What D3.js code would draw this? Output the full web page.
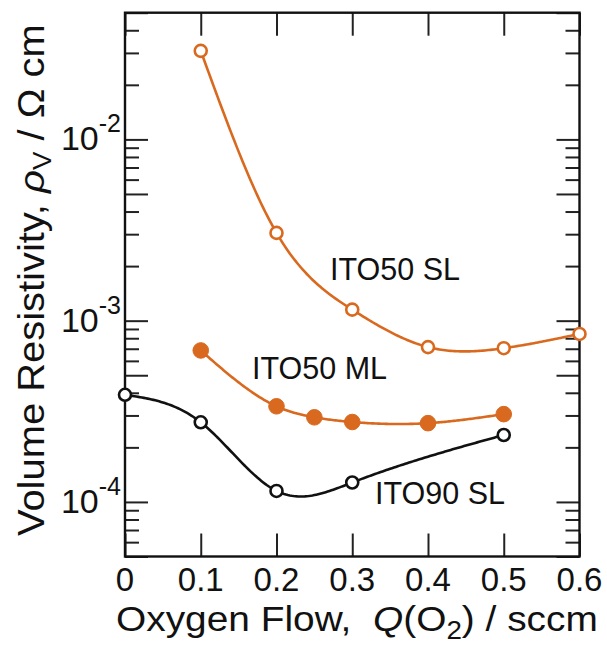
<!DOCTYPE html>
<html>
<head>
<meta charset="utf-8">
<script src="https://cdn.jsdelivr.net/npm/d3@7/dist/d3.min.js"></script>
<style>
  html, body { margin: 0; padding: 0; background: #fff; }
  svg { display: block; }
  text { font-family: "Liberation Sans", Arial, Helvetica, sans-serif; fill: #111; }
</style>
</head>
<body>
<svg id="chart" width="607" height="646"></svg>
<script>
// Oxygen flow (sccm) and volume resistivity (ohm cm) for each film series
const flowITO50SL = [0.1, 0.2, 0.3, 0.4, 0.5, 0.6];
const rhoITO50SL  = [3.08e-2, 3.05e-3, 1.15e-3, 7.15e-4, 7.05e-4, 8.45e-4];

const flowITO50ML = [0.1, 0.2, 0.25, 0.3, 0.4, 0.5];
const rhoITO50ML  = [6.85e-4, 3.37e-4, 2.93e-4, 2.76e-4, 2.72e-4, 3.05e-4];

const flowITO90SL = [0, 0.1, 0.2, 0.3, 0.5];
const rhoITO90SL  = [3.9e-4, 2.75e-4, 1.15e-4, 1.28e-4, 2.34e-4];

const seriesNames = ["ITO50 SL", "ITO50 ML", "ITO90 SL"];

// Axis ticks and labels
const xTickValues = [0, 0.1, 0.2, 0.3, 0.4, 0.5, 0.6];
const xTickLabels = ["0", "0.1", "0.2", "0.3", "0.4", "0.5", "0.6"];
const yDecades = [1e-2, 1e-3, 1e-4];
const yDecadeExponents = ["-2", "-3", "-4"];

const ORANGE = "#d9691f";
const svg = d3.select("#chart");

const plotLeft = 125, plotRight = 579.5, plotTop = 12.7, plotBottom = 556.5;
const x = d3.scaleLinear().domain([0, 0.6]).range([plotLeft, plotRight]);
const y = d3.scaleLog().domain([5e-5, 5e-2]).range([plotBottom, plotTop]);

// Log-axis tick values: every mantissa 1..9 inside the domain
const yAll = [];
for (let e = -5; e <= -2; e++) {
  for (let m = 1; m <= 9; m++) {
    const v = m * Math.pow(10, e);
    if (v >= 5e-5 * 0.999 && v <= 5e-2 * 1.001) yAll.push({ v, m });
  }
}
const yLong = yAll.filter(d => d.m === 1 || d.m === 5).map(d => d.v);
const yShort = yAll.filter(d => !(d.m === 1 || d.m === 5)).map(d => d.v);

function styleAxis(g) {
  g.select(".domain").remove();
  g.selectAll(".tick line").attr("stroke", "#222").attr("stroke-width", 2);
  g.selectAll(".tick text").remove();
}

// inward ticks on all four sides
svg.append("g").attr("transform", `translate(${plotLeft},0)`)
  .call(d3.axisLeft(y).tickValues(yLong).tickSize(-23).tickFormat(() => "")).call(styleAxis);
svg.append("g").attr("transform", `translate(${plotLeft},0)`)
  .call(d3.axisLeft(y).tickValues(yShort).tickSize(-14).tickFormat(() => "")).call(styleAxis);
svg.append("g").attr("transform", `translate(${plotRight},0)`)
  .call(d3.axisRight(y).tickValues(yLong).tickSize(-23).tickFormat(() => "")).call(styleAxis);
svg.append("g").attr("transform", `translate(${plotRight},0)`)
  .call(d3.axisRight(y).tickValues(yShort).tickSize(-14).tickFormat(() => "")).call(styleAxis);
svg.append("g").attr("transform", `translate(0,${plotBottom})`)
  .call(d3.axisBottom(x).tickValues(xTickValues).tickSize(-23).tickFormat(() => "")).call(styleAxis);
svg.append("g").attr("transform", `translate(0,${plotTop})`)
  .call(d3.axisTop(x).tickValues(xTickValues).tickSize(-23).tickFormat(() => "")).call(styleAxis);

// frame
svg.append("rect")
  .attr("x", plotLeft).attr("y", plotTop)
  .attr("width", plotRight - plotLeft).attr("height", plotBottom - plotTop)
  .attr("fill", "none").attr("stroke", "#111").attr("stroke-width", 2.4);

// x tick labels
svg.append("g").selectAll("text").data(xTickValues).join("text")
  .attr("x", d => x(d)).attr("y", 591)
  .attr("text-anchor", "middle").attr("font-size", 33)
  .text((d, i) => xTickLabels[i]);

// y tick labels: 10 with superscript exponent
const yl = svg.append("g").selectAll("text").data(yDecades).join("text")
  .attr("x", 121).attr("y", d => y(d) + 11)
  .attr("text-anchor", "end").attr("font-size", 34);
yl.append("tspan").text("10");
yl.append("tspan").attr("dy", -18).attr("font-size", 25).text((d, i) => yDecadeExponents[i]);

// Natural cubic spline y(x) in (x, log10 rho) space, sampled for drawing
function naturalSpline(xs, ys) {
  const n = xs.length;
  const h = [], a = [], b = [], c = [], r = [];
  for (let i = 0; i < n - 1; i++) h.push(xs[i + 1] - xs[i]);
  const M = new Array(n).fill(0);
  if (n > 2) {
    const m = n - 2;
    for (let i = 1; i <= m; i++) {
      a.push(h[i - 1]); b.push(2 * (h[i - 1] + h[i])); c.push(h[i]);
      r.push(6 * ((ys[i + 1] - ys[i]) / h[i] - (ys[i] - ys[i - 1]) / h[i - 1]));
    }
    for (let i = 1; i < m; i++) {
      const w = a[i] / b[i - 1];
      b[i] -= w * c[i - 1];
      r[i] -= w * r[i - 1];
    }
    const sol = new Array(m);
    sol[m - 1] = r[m - 1] / b[m - 1];
    for (let i = m - 2; i >= 0; i--) sol[i] = (r[i] - c[i] * sol[i + 1]) / b[i];
    for (let i = 0; i < m; i++) M[i + 1] = sol[i];
  }
  return function (t) {
    let i = 0;
    while (i < n - 2 && t > xs[i + 1]) i++;
    const hi = h[i], A = (xs[i + 1] - t) / hi, B = (t - xs[i]) / hi;
    return A * ys[i] + B * ys[i + 1] +
      ((A * A * A - A) * M[i] + (B * B * B - B) * M[i + 1]) * hi * hi / 6;
  };
}

function drawSeries(xs, vals, color, filled) {
  const logs = vals.map(v => Math.log10(v));
  const f = naturalSpline(xs, logs);
  const samples = d3.range(0, 201).map(k => {
    const t = xs[0] + (xs[xs.length - 1] - xs[0]) * k / 200;
    return [t, Math.pow(10, f(t))];
  });
  svg.append("path")
    .attr("d", d3.line().x(d => x(d[0])).y(d => y(d[1]))(samples))
    .attr("fill", "none").attr("stroke", color).attr("stroke-width", 2.6);
  svg.append("g").selectAll("circle").data(xs.map((d, i) => [d, vals[i]])).join("circle")
    .attr("cx", d => x(d[0])).attr("cy", d => y(d[1]))
    .attr("r", filled ? 7.8 : 6)
    .attr("fill", filled ? color : "#fff")
    .attr("stroke", color).attr("stroke-width", filled ? 1 : 2.6);
}

drawSeries(flowITO50SL, rhoITO50SL, ORANGE, false);
drawSeries(flowITO50ML, rhoITO50ML, ORANGE, true);
drawSeries(flowITO90SL, rhoITO90SL, "#111", false);

// series labels
const labelPos = [[330, 280], [252, 379], [375, 504]];
svg.append("g").selectAll("text").data(seriesNames).join("text")
  .attr("x", (d, i) => labelPos[i][0]).attr("y", (d, i) => labelPos[i][1])
  .attr("font-size", 30.5)
  .text(d => d);

// axis titles, stretched horizontally to their full run
function fitWidth(sel, width) {
  const w = sel.node().getBBox().width;
  return w > 0 ? width / w : 1;
}

const xt = svg.append("text").attr("font-size", 35);
xt.append("tspan").text("Oxygen Flow,\u00a0\u00a0");
xt.append("tspan").attr("font-style", "italic").text("Q");
xt.append("tspan").text("(O");
xt.append("tspan").attr("font-size", 25).attr("dy", 8).text("2");
xt.append("tspan").attr("dy", -8).text(") / sccm");
const sx = fitWidth(xt, 482);
xt.attr("transform", `translate(116,631) scale(${sx},1)`);

const ytl = svg.append("text").attr("font-size", 36);
ytl.append("tspan").text("Volume Resistivity, ");
ytl.append("tspan").attr("font-style", "italic").text("\u03c1");
ytl.append("tspan").attr("font-size", 25).attr("dy", 7).text("V");
ytl.append("tspan").attr("dy", -7).text(" / \u03a9 cm");
const sy = fitWidth(ytl, 512);
ytl.attr("transform", `translate(44,536) rotate(-90) scale(${sy},1)`);
</script>
</body>
</html>
